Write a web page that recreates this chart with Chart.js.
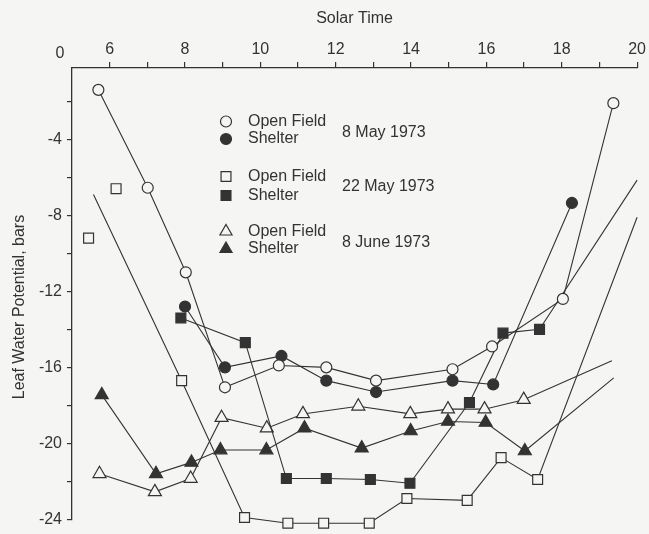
<!DOCTYPE html>
<html>
<head>
<meta charset="utf-8">
<script src="https://cdn.jsdelivr.net/npm/chart.js@4/dist/chart.umd.min.js"></script>
<style>
  html, body { margin: 0; padding: 0; background: #f5f5f3; }
  #wrap { width: 649px; height: 534px; }
</style>
</head>
<body>
<div id="wrap"><canvas id="chart"></canvas></div>
<script>
// solar time (h) and leaf water potential (bars)
const may8OpenTime = [5.70, 7.01, 8.02, 9.06, 10.49, 11.75, 13.07, 15.10, 16.15, 18.03, 19.37];
const may8OpenPot = [-1.4, -6.55, -11.0, -17.05, -15.9, -16.0, -16.7, -16.1, -14.9, -12.4, -2.1];
const may8ShelterTime = [8.00, 9.06, 10.56, 11.75, 13.07, 15.10, 16.18, 18.27];
const may8ShelterPot = [-12.8, -16.0, -15.4, -16.7, -17.3, -16.7, -16.9, -7.35];
const may22OpenTime = [7.91, 9.58, 10.73, 11.68, 12.89, 13.89, 15.49, 16.39, 17.36];
const may22OpenPot = [-16.7, -23.9, -24.2, -24.2, -24.2, -22.9, -23.0, -20.75, -21.9];
const may22OpenEarlyTime = [5.44, 6.17];
const may22OpenEarlyPot = [-9.2, -6.6];
const may22ShelterTime = [7.89, 9.60, 10.69, 11.75, 12.92, 13.97, 15.55, 16.44, 17.41];
const may22ShelterPot = [-13.4, -14.7, -21.85, -21.85, -21.9, -22.1, -17.85, -14.2, -14.0];
const june8OpenTime = [5.73, 7.20, 8.15, 8.97, 10.17, 11.13, 12.60, 13.98, 14.98, 15.95, 16.99];
const june8OpenPot = [-21.6, -22.55, -21.85, -18.65, -19.2, -18.45, -18.05, -18.45, -18.2, -18.2, -17.7];
const june8ShelterTime = [5.79, 7.23, 8.17, 8.94, 10.16, 11.17, 12.69, 13.99, 14.98, 15.98, 17.02];
const june8ShelterPot = [-17.45, -21.6, -21.0, -20.35, -20.35, -19.2, -20.25, -19.35, -18.85, -18.9, -20.4];
// loose line ends, drawn without a symbol: [time, potential]
const may22OpenLineStart = [5.57, -6.9];
const may22OpenLineEnd = [20.0, -8.1];
const may22ShelterLineEnd = [20.0, -6.15];
const june8OpenLineEnd = [19.33, -15.65];
const june8ShelterLineEnd = [19.38, -16.55];
// labelled ticks
const timeTicks = [6, 8, 10, 12, 14, 16, 18, 20];
const potentialTicks = [-4, -8, -12, -16, -20, -24];
const dateLabels = ['8 May 1973', '22 May 1973', '8 June 1973'];

const ink = '#333333';
const paper = '#f5f5f3';
const fam = "'Liberation Sans', Arial, sans-serif";

function pts(t, p, start, end)
{
  let d = t.map((x, i) => ({x: x, y: p[i]}));
  if (start) d.unshift({x: start[0], y: start[1], bare: true});
  if (end) d.push({x: end[0], y: end[1], bare: true});
  return d;
}

function series(label, data, style, filled, r, line)
{
  return {
    label: label,
    data: data,
    showLine: line,
    clip: false,
    borderColor: ink,
    borderWidth: 1.1,
    pointStyle: style,
    pointBorderColor: ink,
    pointBorderWidth: 1.2,
    pointBackgroundColor: filled ? ink : paper,
    pointRadius: (c) => (c.raw && c.raw.bare) ? 0 : r,
    pointHoverRadius: (c) => (c.raw && c.raw.bare) ? 0 : r
  };
}

const ds = [
  series('Open Field', pts(may8OpenTime, may8OpenPot), 'circle', false, 5.5, true),
  series('Shelter', pts(may8ShelterTime, may8ShelterPot), 'circle', true, 5.5, true),
  series('Open Field', pts(may22OpenTime, may22OpenPot, may22OpenLineStart, may22OpenLineEnd), 'rect', false, 7, true),
  series('Shelter', pts(may22ShelterTime, may22ShelterPot, null, may22ShelterLineEnd), 'rect', true, 7, true),
  series('Open Field', pts(june8OpenTime, june8OpenPot, null, june8OpenLineEnd), 'triangle', false, 7.5, true),
  series('Shelter', pts(june8ShelterTime, june8ShelterPot, null, june8ShelterLineEnd), 'triangle', true, 7.5, true),
  series('', pts(may22OpenEarlyTime, may22OpenEarlyPot), 'rect', false, 7, false)
];

// legend sits inside the plot, two rows per date
const legendBox =
{
  id: 'legendBox',
  afterDraw(chart)
  {
    const ctx = chart.ctx;
    const a = chart.chartArea;
    const rowY = [53.5, 71, 108.5, 127.5, 163.5, 181];
    const dateY = [64.5, 119, 175];
    ctx.save();
    ctx.font = '16px ' + fam;
    ctx.textBaseline = 'middle';
    ctx.textAlign = 'left';
    for (let i = 0; i < 6; i++)
    {
      const d = chart.data.datasets[i];
      const r = d.pointStyle == 'circle' ? 5.5 : 7;
      ctx.fillStyle = d.pointBackgroundColor;
      ctx.strokeStyle = ink;
      ctx.lineWidth = 1.2;
      Chart.helpers.drawPoint(ctx, {pointStyle: d.pointStyle, radius: r, borderWidth: 1.2, rotation: 0}, a.left + 154, a.top + rowY[i]);
      ctx.fillStyle = ink;
      ctx.fillText(d.label, a.left + 176, a.top + rowY[i]);
    }
    for (let i = 0; i < dateLabels.length; i++)
    {
      ctx.fillText(dateLabels[i], a.left + 270, a.top + dateY[i]);
    }
    ctx.restore();
  }
};

// the axis break: the corner is labelled 0, set a little left of it
const zeroLabel =
{
  id: 'zeroLabel',
  afterDraw(chart)
  {
    const ctx = chart.ctx;
    const sx = chart.scales.x;
    ctx.save();
    ctx.font = '16px ' + fam;
    ctx.fillStyle = ink;
    ctx.textAlign = 'center';
    ctx.textBaseline = 'middle';
    ctx.fillText('0', sx.getPixelForValue(5) - 12, chart.chartArea.top - 14.5);
    ctx.restore();
  }
};

new Chart(document.getElementById('chart'),
{
  type: 'scatter',
  data: {datasets: ds},
  options:
  {
    responsive: true,
    maintainAspectRatio: false,
    animation: false,
    layout: {padding: {left: 0, top: 0, right: 11, bottom: 8}},
    plugins: {legend: {display: false}, tooltip: {enabled: false}},
    scales:
    {
      x:
      {
        type: 'linear',
        position: 'top',
        min: 5,
        max: 20,
        afterBuildTicks: (s) => { s.ticks = s.ticks.filter((t) => t.value !== 5); },
        afterFit: (s) => { s.height = 68; },
        ticks: {stepSize: 1, autoSkip: false, maxRotation: 0, padding: 3, color: ink, font: {family: fam, size: 16},
          callback: (v) => timeTicks.includes(v) ? String(v) : ''},
        grid: {drawOnChartArea: false, drawTicks: true, tickLength: 6, color: ink, lineWidth: 1.2},
        border: {display: true, color: ink, width: 1.3},
        title: {display: true, text: 'Solar Time', color: ink, font: {family: fam, size: 16}, padding: {top: 8.7, bottom: 0}}
      },
      y:
      {
        type: 'linear',
        min: -24,
        max: -0.25,
        afterFit: (s) => { s.width = 72; },
        ticks: {stepSize: 2, includeBounds: false, autoSkip: false, padding: 5, color: ink, font: {family: fam, size: 16},
          callback: (v) => potentialTicks.includes(v) ? String(v) : ''},
        grid: {drawOnChartArea: false, drawTicks: true, tickLength: 5, color: ink, lineWidth: 1.2},
        border: {display: true, color: ink, width: 1.3},
        title: {display: true, text: 'Leaf Water Potential, bars' + '\u00a0'.repeat(6), color: ink, font: {family: fam, size: 16}, padding: {top: 9.5, bottom: 0}}
      }
    }
  },
  plugins: [legendBox, zeroLabel]
});
</script>
</body>
</html>
